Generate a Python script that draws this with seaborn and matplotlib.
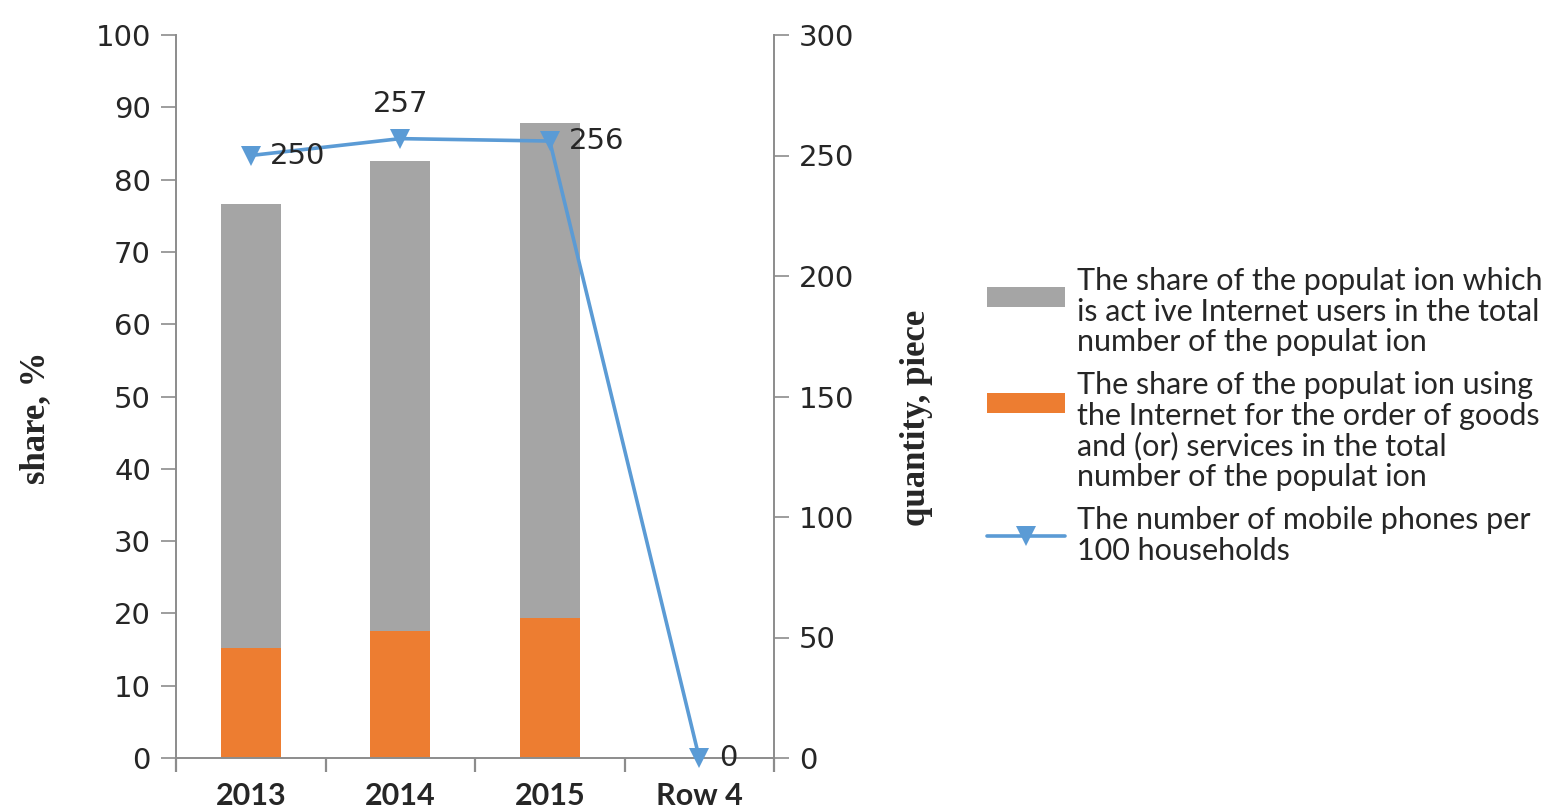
import numpy as np
import pandas as pd
import matplotlib
matplotlib.use("Agg")
import matplotlib.pyplot as plt
import seaborn as sns
from matplotlib.patches import Patch, Rectangle
from matplotlib.lines import Line2D
from matplotlib.legend_handler import HandlerPatch

# ---- data ----
categories = ["2013", "2014", "2015", "Row 4"]
active_users = [76.6, 82.6, 87.8, np.nan]        # share of active Internet users, %
online_orders = [15.2, 17.6, 19.4, np.nan]       # share ordering goods/services online, %
mobile_phones = [250, 257, 256, 0]               # mobile phones per 100 households

legend_labels = [
    "The share of the populat ion which\nis act ive Internet users in the total\nnumber of the populat ion",
    "The share of the populat ion using\nthe Internet for the order of goods\nand (or) services in the total\nnumber of the populat ion",
    "The number of mobile phones per\n100 households",
]

GRAY = "#A5A5A5"
ORANGE = "#ED7D31"
BLUE = "#5B9BD5"
SPINE = "#8C8C8C"

sns.set_style("white")
plt.rcParams["font.family"] = ["DejaVu Sans"]

df = pd.DataFrame({
    "year": categories,
    "active": active_users,
    "orders": online_orders,
    "phones": mobile_phones,
})

fig = plt.figure(figsize=(15.6, 8.11), dpi=100)
ax = fig.add_axes([176 / 1560, 53 / 811, 598 / 1560, 723 / 811])

# stacked look: full bar in gray, lower part in orange
sns.barplot(data=df, x="year", y="active", order=categories, color=GRAY,
            width=0.4, saturation=1, errorbar=None, linewidth=0, ax=ax)
sns.barplot(data=df, x="year", y="orders", order=categories, color=ORANGE,
            width=0.4, saturation=1, errorbar=None, linewidth=0, ax=ax)

ax.set_xlim(-0.5, len(categories) - 0.5)
ax.set_ylim(0, 100)
ax.set_yticks(np.arange(0, 101, 10))
ax.tick_params(axis="y", which="major", direction="out", length=11, width=1.2,
               color=SPINE, labelsize=21, pad=7, left=True)

# category ticks between groups, labels centred under groups
ax.set_xticks(np.arange(-0.5, len(categories), 1.0))
ax.set_xticklabels([""] * (len(categories) + 1))
ax.set_xticks(np.arange(len(categories)), minor=True)
ax.set_xticklabels(categories, minor=True, fontfamily="Lato",
                   fontweight="bold", fontsize=22)
ax.tick_params(axis="x", which="major", direction="out", length=10, width=1.6,
               color=SPINE, bottom=True)
ax.tick_params(axis="x", which="minor", length=0, pad=17)
ax.set_xlabel("")

ax.set_ylabel("share, %", fontfamily="Liberation Serif", fontweight="bold",
              fontsize=25)
ax.yaxis.set_label_coords(-0.208, 0.47)

for side in ("top", "right"):
    ax.spines[side].set_visible(False)
for side in ("left", "bottom"):
    ax.spines[side].set_color(SPINE)
    ax.spines[side].set_linewidth(1.4)

# secondary axis: mobile phones per 100 households
ax2 = ax.twinx()
sns.lineplot(data=df, x="year", y="phones", sort=False, color=BLUE,
             linewidth=2.6, marker="v", markersize=15, markeredgewidth=0,
             ax=ax2, clip_on=False)
ax2.set_ylim(0, 300)
ax2.set_yticks(np.arange(0, 301, 50))
ax2.tick_params(axis="y", direction="out", length=11, width=1.2, color=SPINE,
                labelsize=21, pad=7, right=True)
ax2.set_ylabel("quantity, piece", fontfamily="Liberation Serif",
               fontweight="bold", fontsize=25, rotation=90)
ax2.yaxis.set_label_coords(1.211, 0.47)
for side in ("top", "left", "bottom"):
    ax2.spines[side].set_visible(False)
ax2.spines["right"].set_color(SPINE)
ax2.spines["right"].set_linewidth(1.4)

# value labels on the line
offsets = [(14, 0, "left", "center"), (0, 15, "center", "bottom"),
           (14, 0, "left", "center"), (14, 0, "left", "center")]
for i, (val, (dx, dy, ha, va)) in enumerate(zip(mobile_phones, offsets)):
    ax2.annotate(f"{val}", xy=(i, val), xytext=(dx, dy),
                 textcoords="offset points", ha=ha, va=va, fontsize=21,
                 annotation_clip=False)


# legend keys for multi-line entries sit a little above the text centre
def raised_key(shift):
    def make(legend, orig_handle, xdescent, ydescent, width, height, fontsize):
        return Rectangle((-xdescent, -ydescent + shift), width, height)
    return HandlerPatch(patch_func=make)


gray_key = Patch(facecolor=GRAY, edgecolor="none")
orange_key = Patch(facecolor=ORANGE, edgecolor="none")
line_key = Line2D([0], [0], color=BLUE, linewidth=2.6, marker="v",
                  markersize=15, markeredgewidth=0)
leg = fig.legend([gray_key, orange_key, line_key], legend_labels,
                 loc="center left", bbox_to_anchor=(987 / 1560, 0.487),
                 frameon=False, prop={"family": "Lato", "size": 22},
                 handlelength=2.55, handleheight=0.65, handletextpad=0.4,
                 labelspacing=0.5, borderpad=0, borderaxespad=0,
                 handler_map={gray_key: raised_key(11),
                              orange_key: raised_key(21)})
for t in leg.get_texts():
    t.set_linespacing(1.1)

fig.savefig("out.png", dpi=100)
